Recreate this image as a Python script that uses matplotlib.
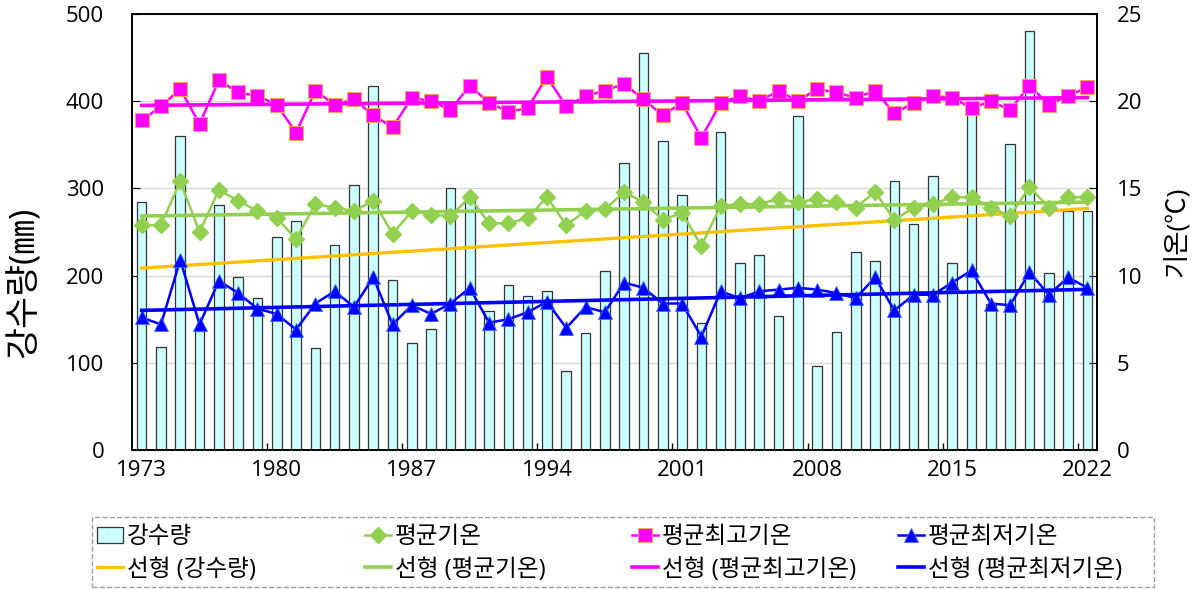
import numpy as np
import matplotlib
matplotlib.use("Agg")
import matplotlib.pyplot as plt
from matplotlib.patches import Rectangle
from matplotlib.ticker import FixedLocator

plt.rcParams["font.family"] = ["Open Sans", "Noto Sans CJK KR", "DejaVu Sans"]

years = np.arange(1973, 2023)

# 강수량 (mm)
precip = [284, 118, 360, 136, 281, 198, 174, 244, 263, 117,
          235, 304, 418, 195, 123, 139, 300, 287, 159, 189,
          177, 182, 91, 134, 205, 329, 455, 354, 292, 146,
          365, 214, 224, 154, 383, 96, 135, 227, 217, 308,
          259, 314, 215, 388, 168, 351, 480, 203, 274, 274]

# 평균기온 (℃)
t_avg = [12.9, 12.9, 15.4, 12.5, 14.9, 14.3, 13.7, 13.3, 12.1, 14.1,
         13.9, 13.7, 14.3, 12.4, 13.7, 13.5, 13.4, 14.5, 13.0, 13.0,
         13.3, 14.5, 12.9, 13.7, 13.8, 14.8, 14.2, 13.2, 13.6, 11.7,
         14.0, 14.1, 14.1, 14.4, 14.2, 14.4, 14.2, 13.9, 14.8, 13.2,
         13.9, 14.1, 14.5, 14.5, 13.9, 13.4, 15.1, 13.9, 14.5, 14.5]

# 평균최고기온 (℃)
t_max = [18.9, 19.7, 20.7, 18.7, 21.2, 20.5, 20.3, 19.8, 18.2, 20.6,
         19.8, 20.1, 19.2, 18.5, 20.2, 20.0, 19.5, 20.9, 19.9, 19.4,
         19.6, 21.4, 19.7, 20.3, 20.6, 21.0, 20.1, 19.2, 19.9, 17.9,
         19.9, 20.3, 20.0, 20.6, 20.0, 20.7, 20.5, 20.2, 20.6, 19.3,
         19.9, 20.3, 20.2, 19.6, 20.0, 19.5, 20.9, 19.8, 20.3, 20.8]

# 평균최저기온 (℃)
t_min = [7.6, 7.2, 10.9, 7.2, 9.7, 9.0, 8.1, 7.8, 6.9, 8.4,
         9.1, 8.2, 9.9, 7.2, 8.3, 7.8, 8.4, 9.3, 7.3, 7.5,
         7.9, 8.5, 7.0, 8.2, 7.9, 9.6, 9.3, 8.4, 8.4, 6.5,
         9.1, 8.7, 9.1, 9.2, 9.3, 9.2, 9.0, 8.7, 9.9, 8.0,
         8.9, 8.9, 9.6, 10.3, 8.4, 8.3, 10.2, 8.9, 9.9, 9.3]

label_years = [1973, 1980, 1987, 1994, 2001, 2008, 2015, 2022]


def trend(y):
    k, b = np.polyfit(years, y, 1)
    return k * years + b


W, H = 1202, 589
fig = plt.figure(figsize=(W / 100, H / 100), dpi=100)
ax = fig.add_axes([132 / W, 1 - 450 / H, (1097 - 132) / W, (450 - 14) / H])
ax2 = ax.twinx()

bars = ax.bar(years, precip, width=0.5, color="#CCFFFF", edgecolor="#333333",
              linewidth=0.9, zorder=2, label="강수량")
tr_p, = ax.plot(years, trend(precip), color="#FFC000", lw=2.4, zorder=3,
                label="선형 (강수량)")

l_avg, = ax2.plot(years, t_avg, color="#92D050", lw=1.8, marker="D",
                  markersize=8.5, markeredgecolor="#92D050", label="평균기온")
l_max, = ax2.plot(years, t_max, color="#FF00FF", lw=1.8, marker="s",
                  markersize=9.5, markeredgecolor="#F4A460", markeredgewidth=0.8,
                  label="평균최고기온")
l_min, = ax2.plot(years, t_min, color="#0000FF", lw=1.8, marker="^",
                  markersize=10, markeredgecolor="#3070FF", markeredgewidth=0.6,
                  label="평균최저기온")
tr_a, = ax2.plot(years, trend(t_avg), color="#92D050", lw=2.6, label="선형 (평균기온)")
tr_x, = ax2.plot(years, trend(t_max), color="#FF00FF", lw=2.6, label="선형 (평균최고기온)")
tr_n, = ax2.plot(years, trend(t_min), color="#0000FF", lw=2.6, label="선형 (평균최저기온)")

ax.set_xlim(1972.5, 2022.5)
ax.set_ylim(0, 500)
ax2.set_ylim(0, 25)
ax.set_yticks(np.arange(0, 501, 100))
ax2.set_yticks(np.arange(0, 26, 5))
ax.set_xticks(label_years)
ax.xaxis.set_minor_locator(FixedLocator(np.arange(1979.5, 2022, 7)))
ax.yaxis.grid(True, color="#D9D9D9", lw=1.0, zorder=0)
ax.set_axisbelow(True)

ax.tick_params(axis="x", which="major", length=0, labelsize=16, pad=7)
ax.tick_params(axis="x", which="minor", direction="in", length=5, width=1)
ax.tick_params(axis="y", direction="in", length=6, labelsize=16, pad=20)
ax2.tick_params(axis="y", direction="in", length=6, labelsize=16, pad=14)

for a in (ax, ax2):
    for s in a.spines.values():
        s.set_color("black")
        s.set_linewidth(1.2)

fig.text(25 / W, 1 - 282 / H, "강수량(㎜)", rotation=90, fontsize=25,
         ha="center", va="center")
fig.text(1178 / W, 1 - 232 / H, "기온(℃)", rotation=90, fontsize=19,
         ha="center", va="center")

# legend: four equal-width columns inside one dashed frame
columns = [(bars, tr_p), (l_avg, tr_a), (l_max, tr_x), (l_min, tr_n)]
col_x = [97, 365, 632, 898]
for (h1, h2), x in zip(columns, col_x):
    fig.legend([h1, h2], [h1.get_label(), h2.get_label()], loc="center left",
               bbox_to_anchor=(x / W, 1 - 553.5 / H), frameon=False,
               fontsize=17, borderpad=0, borderaxespad=0, handlelength=1.1,
               handletextpad=0.15, labelspacing=0.35)
fig.add_artist(Rectangle((92 / W, 1 - 587 / H), (1154 - 92) / W, 70 / H,
                         transform=fig.transFigure, fill=False, ls="--",
                         ec="#A0A0A0", lw=1.0))

fig.savefig("out.png", dpi=100)
